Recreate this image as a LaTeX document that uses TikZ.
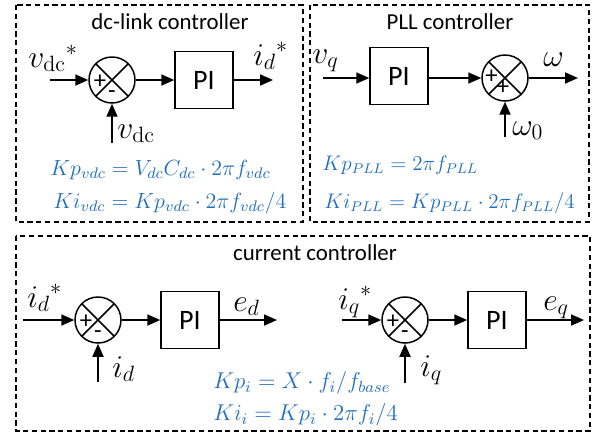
\RequirePackage{fix-cm}
\documentclass[tikz,border=0pt]{standalone}
\usepackage{amsmath}
\usepackage{fontspec}
\usepackage{tikz}
\usetikzlibrary{positioning,arrows.meta,calc}
\newfontfamily\calib{Carlito}
\definecolor{eqblue}{RGB}{31,110,190}

\begin{document}
\begin{tikzpicture}[x=0.02cm, y=-0.02cm,
  grp/.style={draw, dash pattern=on 3pt off 2pt, line width=0.75pt},
  ttl/.style={font=\calib\fontsize{13}{15}\selectfont},
  pibox/.style={draw, line width=0.85pt, minimum width=1.16cm, minimum height=1.14cm,
                inner sep=0pt, font=\calib\fontsize{16}{18}\selectfont},
  sumop/.style={draw, circle, line width=0.85pt, minimum size=0.92cm, inner sep=0pt,
                path picture={\draw[line width=0.85pt]
                  (path picture bounding box.north west) -- (path picture bounding box.south east)
                  (path picture bounding box.north east) -- (path picture bounding box.south west);}},
  sgn/.style={font=\calib\fontsize{14}{16}\selectfont, inner sep=0pt},
  sig/.style={font=\fontsize{18}{20}\selectfont, inner sep=0pt, anchor=base west},
  eq/.style={font=\fontsize{12.5}{15}\selectfont, text=eqblue, inner sep=0pt, anchor=west},
  arr/.style={-{Triangle[length=0.26cm, width=0.22cm]}, line width=1pt},
]
\useasboundingbox (0,0) rectangle (598,434);

\draw[grp] (16,5) rectangle (303,222);
\draw[grp] (310,5) rectangle (589,222);
\draw[grp] (16,236) rectangle (590,431);

\node[ttl] (t1) at (170,22)  {dc-link controller};
\node[ttl] (t2) at (450,22)  {PLL controller};
\node[ttl] (t3) at (315,253) {current controller};

% dc-link
\coordinate (vdcin) at (50,80);
\coordinate (idref) at (273,80);
\coordinate (vdcfb) at (112,143);
\node[sumop] (s1)  at (112,80) {};
\node[pibox] (pi1) at (204,80) {PI};
\node[sgn] (s1p) at ([xshift=-0.24cm, yshift=-0.04cm]s1.center) {+};
\node[sgn] (s1m) at ([yshift=-0.29cm]s1.center) {-};
\draw[arr] (vdcin) -- (s1);
\draw[arr] (s1) -- (pi1);
\draw[arr] (pi1) -- (idref);
\draw[arr] (vdcfb) -- (s1);
\node[sig] (l1) at (28,67)  {${v_{\mathrm{dc}}}^{*}$};
\node[sig] (l2) at (253,65) {${i_d}^{*}$};
\node[sig] (l3) at (117,138) {$v_{\mathrm{dc}}$};
\node[eq] (k1) at (50,170) {$Kp_{vdc}=V_{dc}C_{dc}\cdot 2\pi f_{vdc}$};
\node[eq] (k2) at (53,203) {$Ki_{vdc}=Kp_{vdc}\cdot 2\pi f_{vdc}/4$};

% PLL
\coordinate (vqin) at (323,78);
\coordinate (wout) at (578,78);
\coordinate (w0in) at (505,137);
\node[pibox] (pi2) at (399,76) {PI};
\node[sumop] (s2)  at (505,78) {};
\node[sgn] (s2p) at ([xshift=-0.27cm, yshift=0.03cm]s2.center) {+};
\node[sgn] (s2q) at ([xshift=-0.04cm, yshift=-0.2cm]s2.center) {+};
\draw[arr] (vqin) -- (pi2.west |- vqin);
\draw[arr] (pi2.east |- s2) -- (s2);
\draw[arr] (s2) -- (wout);
\draw[arr] (w0in) -- (s2);
\node[sig] (l4) at (312,63) {$v_q$};
\node[sig] (l5) at (543,66) {$\omega$};
\node[sig] (l6) at (512,135) {$\omega_0$};
\node[eq, font=\fontsize{12}{14}\selectfont] (k3) at (322,165) {$Kp_{PLL}=2\pi f_{PLL}$};
\node[eq, font=\fontsize{12}{14}\selectfont] (k4) at (324,203) {$Ki_{PLL}=Kp_{PLL}\cdot 2\pi f_{PLL}/4$};

% current
\coordinate (idin) at (23,320);
\coordinate (edout) at (277,320);
\coordinate (idfb) at (98,382);
\node[sumop] (s3)  at (98,320) {};
\node[pibox] (pi3) at (190,320) {PI};
\node[sgn] (s3p) at ([xshift=-0.24cm, yshift=-0.04cm]s3.center) {+};
\node[sgn] (s3m) at ([yshift=-0.29cm]s3.center) {-};
\draw[arr] (idin) -- (s3);
\draw[arr] (s3) -- (pi3);
\draw[arr] (pi3) -- (edout);
\draw[arr] (idfb) -- (s3);
\node[sig] (l7) at (27,307) {${i_d}^{*}$};
\node[sig] (l8) at (233,311) {$e_d$};
\node[sig] (l9) at (112,377) {$i_d$};

\coordinate (iqin) at (342,320);
\coordinate (eqout) at (584,320);
\coordinate (iqfb) at (405,383);
\node[sumop] (s4)  at (405,320) {};
\node[pibox] (pi4) at (497,320) {PI};
\node[sgn] (s4p) at ([xshift=-0.24cm, yshift=-0.04cm]s4.center) {+};
\node[sgn] (s4m) at ([yshift=-0.29cm]s4.center) {-};
\draw[arr] (iqin) -- (s4);
\draw[arr] (s4) -- (pi4);
\draw[arr] (pi4) -- (eqout);
\draw[arr] (iqfb) -- (s4);
\node[sig] (l10) at (338,309) {${i_q}^{*}$};
\node[sig] (l11) at (543,310) {$e_q$};
\node[sig] (l12) at (420,376) {$i_q$};
\node[eq, font=\fontsize{13}{15}\selectfont] (k5) at (213,383) {$Kp_{i}=X\cdot f_i/f_{base}$};
\node[eq, font=\fontsize{13}{15}\selectfont] (k6) at (213,415) {$Ki_{i}=Kp_{i}\cdot 2\pi f_i/4$};
\end{tikzpicture}
\end{document}
